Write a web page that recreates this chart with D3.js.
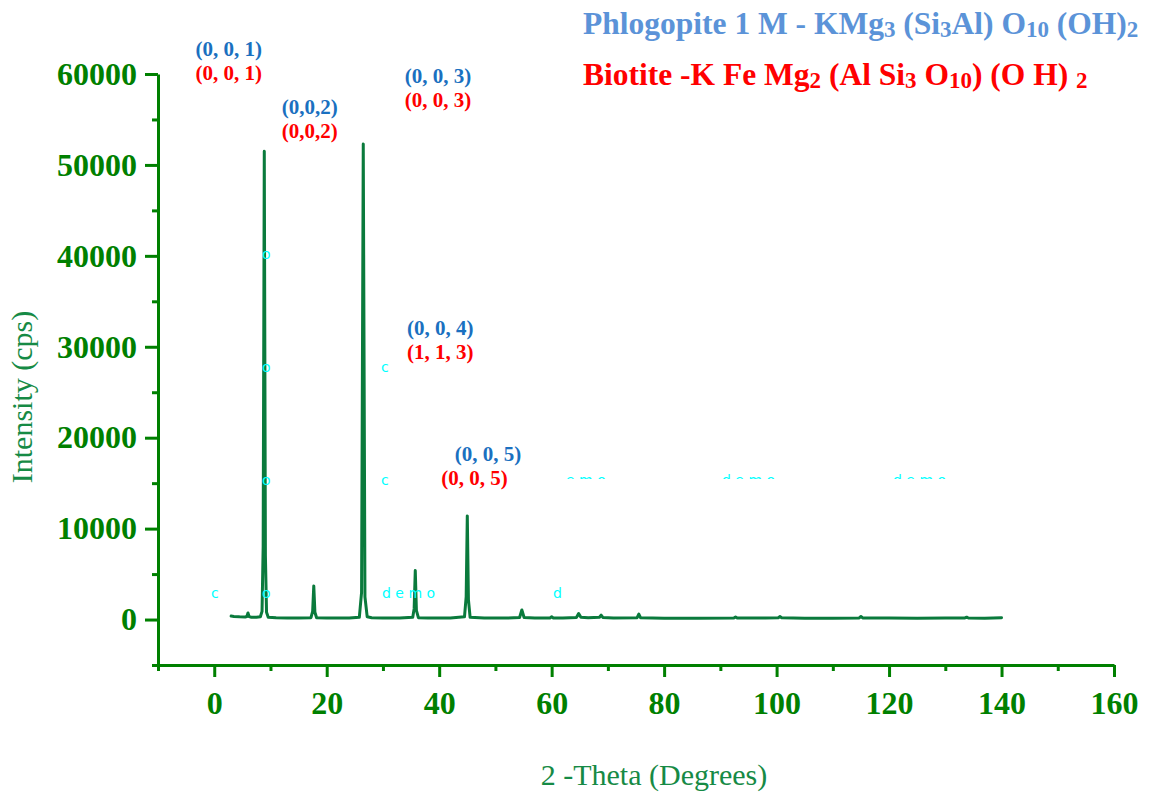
<!DOCTYPE html>
<html>
<head>
<meta charset="utf-8">
<script src="https://cdn.jsdelivr.net/npm/d3@7/dist/d3.min.js"></script>
<style>
  body { margin: 0; background: #fff; }
  svg { display: block; }
</style>
</head>
<body>
<svg id="chart" width="1157" height="800"></svg>
<script>
// XRD pattern: [2-theta, intensity (cps)]
const pattern = [
  [3.0, 380], [3.5, 340], [4.5, 300], [5.5, 280], [5.8, 330], [6.0, 720], [6.2, 320],
  [6.6, 260], [7.5, 250], [8.2, 300], [8.5, 900], [8.7, 8000], [8.9, 51500], [9.1, 7000],
  [9.3, 800], [9.6, 250], [11, 200], [13, 180], [15, 170], [17.2, 200], [17.5, 900],
  [17.7, 3700], [17.9, 800], [18.2, 200], [20, 170], [22, 160], [24, 170], [25.8, 250],
  [26.2, 3000], [26.5, 52300], [26.8, 2500], [27.2, 300], [28, 200], [30, 170], [33, 160],
  [35.3, 250], [35.55, 1200], [35.75, 5400], [35.95, 1000], [36.3, 200], [38, 170],
  [40, 170], [42, 160], [44.5, 300], [44.8, 2500], [45.0, 11400], [45.2, 2200], [45.5, 250],
  [48, 160], [52, 160], [54.3, 220], [54.7, 1050], [55.1, 230], [57, 160], [59.7, 180],
  [60.0, 300], [60.3, 170], [62, 180], [64.4, 230], [64.8, 650], [65.2, 250], [66.5, 200],
  [68.5, 250], [68.8, 480], [69.1, 230], [71, 170], [75.2, 200], [75.5, 600], [75.8, 200],
  [80, 150], [86, 150], [92.4, 170], [92.7, 280], [93.0, 160], [98, 160], [100.3, 200],
  [100.6, 320], [100.9, 200], [105, 150], [110, 150], [114.7, 180], [115.0, 330],
  [115.3, 180], [120, 160], [125, 150], [130, 170], [133.5, 180], [133.8, 260],
  [134.1, 170], [137, 150], [140, 190]
];

const xTicks = [0, 20, 40, 60, 80, 100, 120, 140, 160];
const yTicks = [0, 10000, 20000, 30000, 40000, 50000, 60000];

// hkl labels: label x (2theta), label y (cps), phlogopite, biotite
const peakLabelX = [2.6, 17.0, 39.8, 40.2, 48.7];
const peakLabelY = [62000, 55600, 59000, 31300, 17400];
const phlogopiteHkl = ["(0, 0, 1)", "(0,0,2)", "(0, 0, 3)", "(0, 0, 4)", "(0, 0, 5)"];
const biotiteHkl = ["(0, 0, 1)", "(0,0,2)", "(0, 0, 3)", "(1, 1, 3)", "(0, 0, 5)"];
const biotiteShift = [0, 0, 0, 0, -2.4];

// legend formulas, [text, subscript?]
const phlogopiteTitle = [["Phlogopite 1 M - KMg", 0], ["3", 1], [" (Si", 0], ["3", 1], ["Al) O", 0], ["10", 1], [" (OH)", 0], ["2", 1]];
const biotiteTitle = [["Biotite -K Fe Mg", 0], ["2", 1], [" (Al Si", 0], ["3", 1], [" O", 0], ["10", 1], [") (O H) ", 0], ["2", 1]];

const svg = d3.select("#chart");
const serif = "'Liberation Serif', 'Times New Roman', serif";
const axisGreen = "#008000";

const x = d3.scaleLinear().domain([-10, 160]).range([158, 1114]);
const y = d3.scaleLinear().domain([-5000, 60000]).range([665, 74]);

// axes
svg.append("g").attr("transform", "translate(0,665)")
    .call(d3.axisBottom(x).tickValues(xTicks).tickSize(12).tickSizeOuter(0).tickPadding(14));
svg.append("g").attr("transform", "translate(0,665)")
    .call(d3.axisBottom(x).tickValues(d3.range(-10, 160, 20)).tickSize(6).tickFormat(""))
    .select(".domain").remove();
svg.append("g").attr("transform", "translate(158,0)")
    .call(d3.axisLeft(y).tickValues(yTicks).tickSize(13).tickSizeOuter(0).tickPadding(8).tickFormat(d3.format("d")));
svg.append("g").attr("transform", "translate(158,0)")
    .call(d3.axisLeft(y).tickValues(d3.range(-5000, 60000, 10000)).tickSize(6).tickFormat(""))
    .select(".domain").remove();

svg.selectAll(".domain, .tick line").attr("stroke", axisGreen).attr("stroke-width", 3);
svg.selectAll(".tick text")
    .attr("fill", axisGreen)
    .attr("font-family", serif)
    .attr("font-weight", "bold")
    .attr("font-size", 32);

// axis titles
svg.append("text")
    .attr("transform", "translate(32,397) rotate(-90)")
    .attr("text-anchor", "middle")
    .attr("font-family", serif)
    .attr("font-size", 30)
    .attr("fill", "#168a45")
    .text("Intensity (cps)");
svg.append("text")
    .attr("x", 654).attr("y", 785)
    .attr("text-anchor", "middle")
    .attr("font-family", serif)
    .attr("font-size", 30)
    .attr("fill", "#168a45")
    .text("2 -Theta (Degrees)");

// pattern
svg.append("path")
    .datum(pattern)
    .attr("fill", "none")
    .attr("stroke", "#0a7a3c")
    .attr("stroke-width", 3)
    .attr("stroke-linejoin", "round")
    .attr("stroke-linecap", "round")
    .attr("d", d3.line().x(d => x(d[0])).y(d => y(d[1])));

// demo watermark fragments
const wm = svg.append("g").attr("font-family", "'DejaVu Sans', sans-serif")
    .attr("font-size", 14).attr("fill", "#00ffff");
const wmFull = [["c", 211, 598], ["o", 262, 598], ["d e m o", 382, 598], ["d", 553, 598],
  ["o", 262, 485], ["c", 381, 485], ["o", 262, 372], ["c", 381, 372], ["o", 262, 259]];
wmFull.forEach(d => wm.append("text").attr("x", d[1]).attr("y", d[2]).text(d[0]));
svg.append("clipPath").attr("id", "wmclip").append("rect")
    .attr("x", 550).attr("y", 460).attr("width", 420).attr("height", 19);
const wmPart = [["e m o", 566, 485], ["d e m o", 722, 485], ["d e m o", 893, 485]];
const wm2 = wm.append("g").attr("clip-path", "url(#wmclip)");
wmPart.forEach(d => wm2.append("text").attr("x", d[1]).attr("y", d[2]).text(d[0]));

// hkl labels
const labels = svg.append("g").attr("font-family", serif).attr("font-weight", "bold")
    .attr("font-size", 21).attr("text-anchor", "middle");
phlogopiteHkl.forEach((t, i) => {
  labels.append("text").attr("x", x(peakLabelX[i])).attr("y", y(peakLabelY[i]))
      .attr("fill", "#1a70c0").text(t);
  labels.append("text").attr("x", x(peakLabelX[i] + biotiteShift[i])).attr("y", y(peakLabelY[i]) + 24)
      .attr("fill", "#ff0000").text(biotiteHkl[i]);
});

// formula titles
function formula(parts, yPos, color) {
  const t = svg.append("text").attr("x", 583).attr("y", yPos)
      .attr("font-family", serif).attr("font-weight", "bold")
      .attr("font-size", 31.5).attr("fill", color);
  parts.forEach(p => {
    t.append("tspan")
      .attr("font-size", p[1] ? 23 : 31.5)
      .attr("baseline-shift", p[1] ? "-3" : null)
      .text(p[0]);
  });
}
formula(phlogopiteTitle, 34, "#5b93d8");
formula(biotiteTitle, 85, "#ff0000");
</script>
</body>
</html>
